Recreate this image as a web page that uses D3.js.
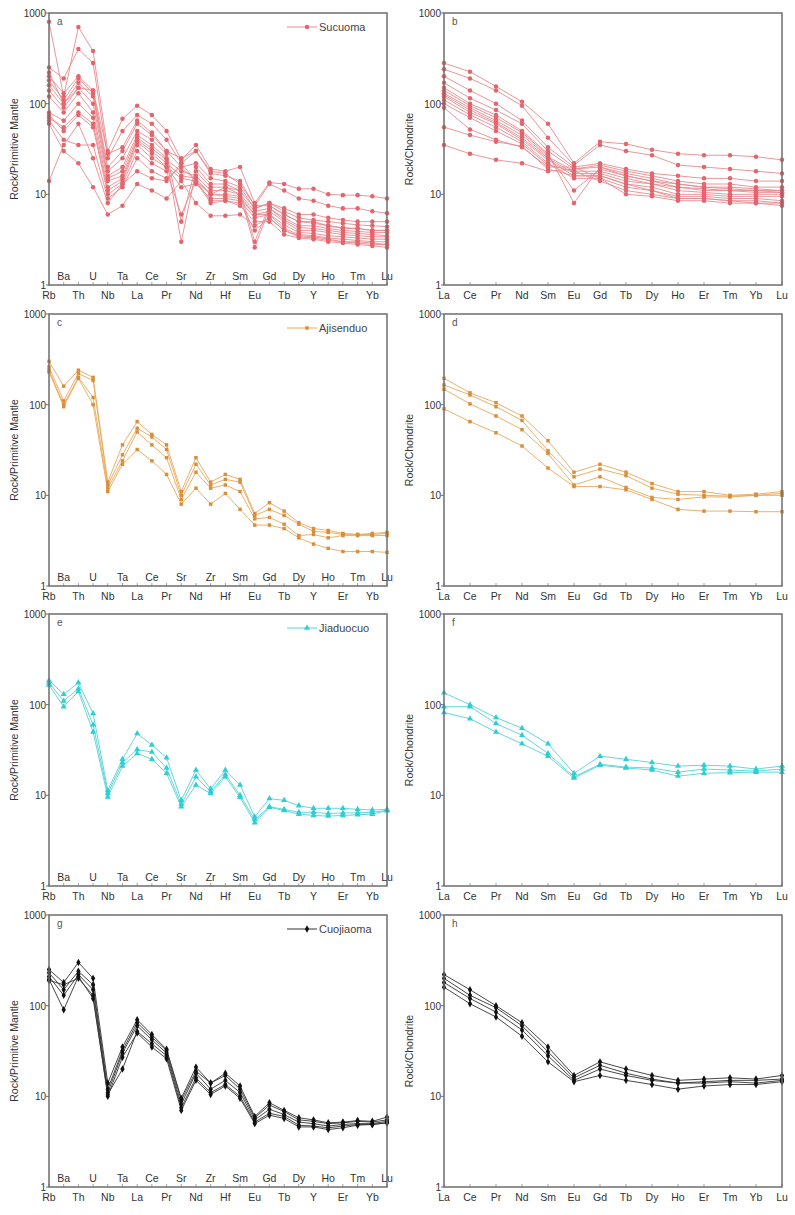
<!DOCTYPE html>
<html>
<head>
<meta charset="utf-8">
<script src="https://cdn.jsdelivr.net/npm/d3@7"></script>
<style>
  body { margin: 0; background: #fff; }
  svg { font-family: "Liberation Sans", Arial, sans-serif; }
</style>
</head>
<body>
<script>
// element order of the two spider diagrams
var pmElements = ["Rb","Ba","Th","U","Nb","Ta","La","Ce","Pr","Sr","Nd","Zr","Hf","Sm","Eu","Gd","Tb","Dy","Y","Ho","Er","Tm","Yb","Lu"];
var reeElements = ["La","Ce","Pr","Nd","Sm","Eu","Gd","Tb","Dy","Ho","Er","Tm","Yb","Lu"];
var yTicks = [1, 10, 100, 1000];

// Sucuoma - primitive mantle normalised
var sucuomaPM = [
  [800,120,700,380,30,68,95,75,50,24,35,19,18,20,8,13.5,13,11.5,11.5,10,9.8,9.8,9.5,9],
  [250,190,400,280,25,50,75,60,40,22,30,17,16,14,7.5,13,11,9,8.5,7.5,7,7,6.5,6.2],
  [200,130,200,140,20,30,60,45,30,20,22,15,14,12,7,8,7,6,6,5.5,5.2,5,5,5],
  [180,110,190,130,18,25,50,40,28,5,20,13,13,11,3,7.5,6,5,5,4.5,4.3,4.2,4,4],
  [160,100,170,120,16,20,45,35,25,3,18,12,12,10,2.6,7,5.5,4.5,4.5,4.2,4,3.9,3.8,3.8],
  [140,90,150,100,15,18,42,32,24,18,16,11,11,10,6.5,7,5.2,4.3,4.2,4,3.8,3.7,3.6,3.5],
  [120,80,130,80,14,16,40,30,22,16,15,10,10,9.5,6,6.5,5,4,4,3.8,3.6,3.5,3.4,3.4],
  [80,65,100,70,12,15,38,28,20,15,14,10,9.5,9,6,6,4.6,3.8,3.7,3.5,3.4,3.3,3.2,3.2],
  [70,55,80,60,11,14,35,25,20,12,13,9,9,8.5,5.5,6,4.2,3.6,3.5,3.3,3.2,3.1,3,3],
  [75,50,75,55,10,13,30,22,18,6,14,8.5,8.5,8,4,5.5,4,3.4,3.3,3.1,3,2.9,2.8,2.8],
  [65,40,35,35,9,12,25,18,15,20,14,8,8.5,7.5,5,5,3.6,3.3,3.2,3,2.9,2.8,2.7,2.6],
  [60,30,22,12,6,7.5,13,11,9,14,8,5.8,5.8,6,4.5,5.5,4,3.5,3.4,3.2,3,3,2.9,2.8],
  [14,35,60,25,8,13,18,15,14,22,14,10,12,11,7,8,6.5,5.5,5.2,5,4.8,4.6,4.5,4.4],
  [220,100,150,140,28,33,65,48,30,25,30,18,17,13,7.5,7.5,6,5,4.8,4.5,4.2,4.2,4,4]
];
// Sucuoma - chondrite normalised
var sucuomaREE = [
  [280,225,155,105,60,22,38,36,31,28,27,27,26,24],
  [240,190,140,95,42,21,35,30,27,21,20,19,18,17],
  [200,140,100,65,33,20,22,19,17,16,15,15,14,14],
  [170,115,85,60,30,19,21,18,16,14,13,13,12,12],
  [150,100,75,50,28,8,20,17,15,13,12,12,11.5,11],
  [140,95,70,48,27,11,19,16,14,13,12,11.5,11,11],
  [130,90,65,45,26,18,18,15,13,12,11,11,10.5,10.5],
  [125,85,62,42,25,17,17,14,13,11,10.5,10,10,10],
  [120,80,60,40,24,16,16,13,12,10,10,9.5,9.5,9.5],
  [110,75,55,38,22,15,15,12,11,9.5,9.5,9,9,8.5],
  [100,70,50,36,21,18,14,11,10,9,9,8.5,8.5,8],
  [90,52,40,33,20,20,15,10,9.5,8.5,8.5,8,8,7.5],
  [55,45,38,34,19,16,16,13,11,9,9,8.5,8,8],
  [35,28,24,22,18,19,20,16,14,12,11.5,11,11,10.5]
];
// Ajisenduo
var ajisenduoPM = [
  [300,160,240,200,14,36,65,47,36,11,26,14,17,15,6.3,8.3,6.7,5,4.3,4.1,3.8,3.7,3.8,3.9],
  [260,110,220,185,13,28,55,44,32,10,22,13,15,14,6,7,6,4.8,4,3.9,3.7,3.7,3.7,3.8],
  [240,100,200,120,12,24,50,36,26,9,18,12,13,11,5.5,5.7,4.8,3.6,3.7,3.4,3.6,3.6,3.6,3.6],
  [230,95,195,100,11,22,32,24,17,8,12,8,10.5,7,4.7,4.7,4.3,3.4,2.9,2.6,2.4,2.4,2.4,2.35]
];
var ajisenduoREE = [
  [195,135,105,75,40,18,22,18,13.5,11,11,10,10.3,11],
  [165,128,95,67,31,16,19.5,16.5,12,10.3,10,9.8,10,10.5],
  [148,102,75,53,29,13,16,12.2,9.5,9,9.6,9.6,10,10],
  [90,65,49,35,20,12.5,12.5,11.5,9,7,6.7,6.7,6.6,6.6]
];
// Jiaduocuo
var jiaduocuoPM = [
  [185,130,175,80,11.3,25,48,36,26,8.8,19,11.8,19,13,5.8,9.2,8.8,7.7,7.2,7.2,7.2,7,6.9,7],
  [175,110,150,60,10.5,23,32,30,20,8,16,11,17,10,5.4,7.5,7,6.5,6.5,6.3,6.4,6.4,6.5,6.8],
  [165,95,140,50,9.6,21,29,25,17.5,7.5,13,10.5,16,9.5,5,7.4,6.8,6.2,6,5.9,6,6.1,6.2,6.8]
];
var jiaduocuoREE = [
  [135,100,72,55,37,17.5,27,25,23,21,21.5,21,19.5,21],
  [95,95,62,46,29,16,22,20.5,20,18,19.5,19,18.5,19.5],
  [82,70,50,37,27,15.5,21.5,20,19,16.3,17.5,17.8,18,18]
];
// Cuojiaoma
var cuojiaomaPM = [
  [250,180,300,200,14,35,70,48,33,9.5,21,14,18,13,6,8.5,7,5.8,5.5,5.1,5.2,5.4,5.3,5.9],
  [230,150,240,170,12,32,65,45,32,9,19,14,17,12,5.8,8,6.8,5.5,5.3,5,5.1,5.3,5.2,5.5],
  [210,130,220,150,11,30,60,42,30,8.2,18,12,15,11,5.5,7.2,6.3,5.2,5,4.7,4.9,5,5,5.3],
  [195,90,210,120,10.5,20,52,38,28,7.5,16,11,13.5,10,5.2,6.5,6,4.8,4.7,4.5,4.7,4.9,4.9,5.1],
  [190,170,200,130,10,27,50,35,26,7,15,10.5,13,9.5,5,6.2,5.7,4.6,4.6,4.3,4.5,4.8,4.9,5.1]
];
var cuojiaomaREE = [
  [220,150,100,65,35,17,24,20,17,15,15.5,16,15.5,17],
  [200,130,95,60,31,16,22,18,15.5,14,14.5,15,15,15.5],
  [180,120,85,54,28,15,20,17,15,14,14,14.5,14,15],
  [160,105,75,46,24,14.5,17,15,13.5,12,13,13.5,13.5,14.5]
];

var groups = [
  {name: "Sucuoma",   pm: sucuomaPM,   ree: sucuomaREE,   line: "#ea8a8e", dot: "#e2666d", sym: d3.symbolCircle,  letters: ["a","b"]},
  {name: "Ajisenduo", pm: ajisenduoPM, ree: ajisenduoREE, line: "#eaa85a", dot: "#d98f3a", sym: d3.symbolSquare,  letters: ["c","d"]},
  {name: "Jiaduocuo", pm: jiaduocuoPM, ree: jiaduocuoREE, line: "#52d4d6", dot: "#2ccfd3", sym: d3.symbolTriangle, letters: ["e","f"]},
  {name: "Cuojiaoma", pm: cuojiaomaPM, ree: cuojiaomaREE, line: "#333333", dot: "#111111", sym: d3.symbolDiamond, letters: ["g","h"]}
];

var width = 795, height = 1215;
var rowTops = [13, 314, 614, 915];
var plotH = 272;
var leftX = [49, 387], rightX = [444, 782];

var svg = d3.select("body").append("svg")
    .attr("width", width)
    .attr("height", height);

function drawPanel(g, elems, data, grp, xr, top, letter, yLabel, isPM, showLegend) {
    var x = d3.scalePoint().domain(elems).range(xr).padding(0);
    var y = d3.scaleLog().domain([1, 1000]).range([top + plotH, top]);
    var line = d3.line()
        .x(function(d, i) { return x(elems[i]); })
        .y(function(d) { return y(d); });

    // bottom element ticks
    g.selectAll(".xt").data(elems).enter().append("line")
        .attr("x1", function(d) { return x(d); })
        .attr("x2", function(d) { return x(d); })
        .attr("y1", top + plotH)
        .attr("y2", top + plotH - 3)
        .attr("stroke", "#888").attr("stroke-width", 0.8);

    // series
    data.forEach(function(s) {
        g.append("path")
            .datum(s)
            .attr("d", line)
            .attr("fill", "none")
            .attr("stroke", grp.line)
            .attr("stroke-width", 0.9);
    });
    var sym = d3.symbol().type(grp.sym).size(grp.sym === d3.symbolSquare ? 12 : 16);
    data.forEach(function(s) {
        g.selectAll(null).data(s).enter().append("path")
            .attr("d", sym)
            .attr("transform", function(d, i) { return "translate(" + x(elems[i]) + "," + y(d) + ")"; })
            .attr("fill", grp.dot);
    });

    // frame
    g.append("rect")
        .attr("x", xr[0]).attr("y", top)
        .attr("width", xr[1] - xr[0]).attr("height", plotH)
        .attr("fill", "none")
        .attr("stroke", "#6e6e6e")
        .attr("stroke-width", 1.5);

    // y ticks
    yTicks.forEach(function(t) {
        g.append("line")
            .attr("x1", xr[0] - 3).attr("x2", xr[0])
            .attr("y1", y(t)).attr("y2", y(t))
            .attr("stroke", "#6e6e6e").attr("stroke-width", 1);
        g.append("text")
            .attr("x", xr[0] - 3)
            .attr("y", y(t) + 4)
            .attr("text-anchor", "end")
            .style("font-size", "10px")
            .attr("fill", "#333")
            .text(t);
    });

    // element labels
    elems.forEach(function(e, i) {
        var inside = isPM && (i % 2 === 1);
        g.append("text")
            .attr("x", x(e))
            .attr("y", inside ? top + plotH - 5 : top + plotH + 14)
            .attr("text-anchor", "middle")
            .style("font-size", "10.5px")
            .attr("fill", "#333")
            .text(e);
    });

    // y axis title
    g.append("text")
        .attr("transform", "translate(" + (xr[0] - 31) + "," + (top + plotH / 2) + ") rotate(-90)")
        .attr("text-anchor", "middle")
        .style("font-size", "10.5px")
        .attr("fill", "#333")
        .text(yLabel);

    // panel letter
    g.append("text")
        .attr("x", xr[0] + 8)
        .attr("y", top + 12)
        .style("font-size", "10px")
        .attr("fill", "#555")
        .text(letter);

    if (showLegend) {
        var ly = top + 14, lx = xr[1] - 100;
        g.append("line")
            .attr("x1", lx).attr("x2", lx + 30)
            .attr("y1", ly).attr("y2", ly)
            .attr("stroke", grp.line).attr("stroke-width", 1);
        g.append("path")
            .attr("d", sym)
            .attr("transform", "translate(" + (lx + 20) + "," + ly + ")")
            .attr("fill", grp.dot);
        g.append("text")
            .attr("x", lx + 32)
            .attr("y", ly + 4)
            .style("font-size", "11px")
            .attr("fill", "#444")
            .text(grp.name);
    }
}

groups.forEach(function(grp, r) {
    var top = rowTops[r];
    drawPanel(svg.append("g"), pmElements, grp.pm, grp, leftX, top, grp.letters[0], "Rock/Primitive Mantle", true, true);
    drawPanel(svg.append("g"), reeElements, grp.ree, grp, rightX, top, grp.letters[1], "Rock/Chondrite", false, false);
});
</script>
</body>
</html>
